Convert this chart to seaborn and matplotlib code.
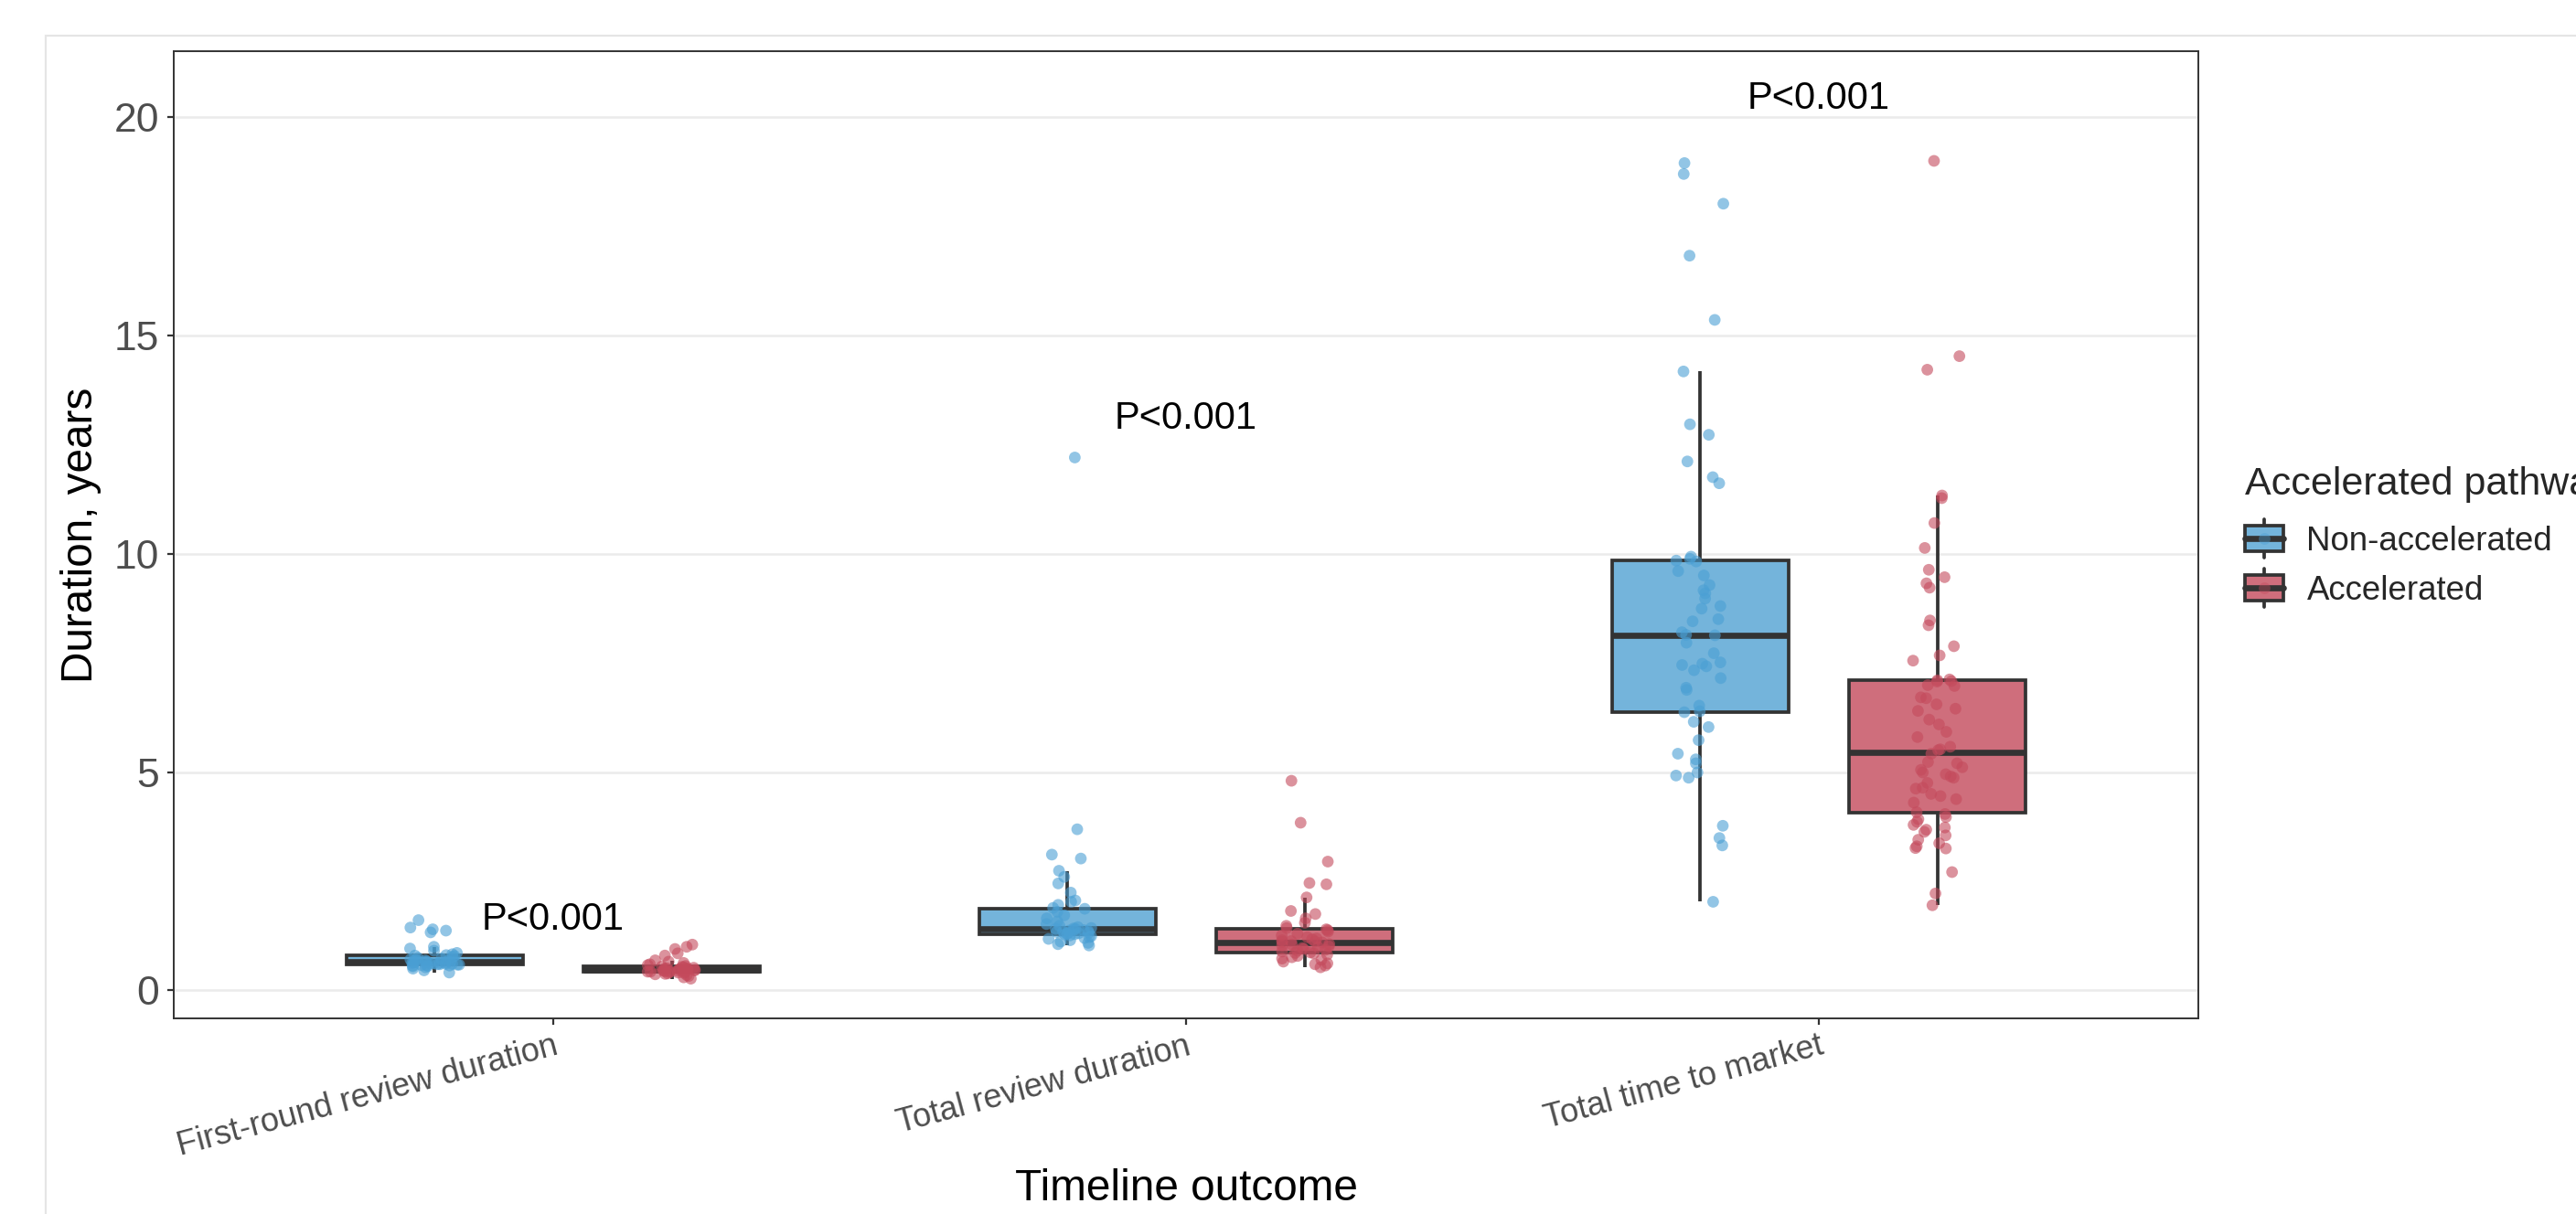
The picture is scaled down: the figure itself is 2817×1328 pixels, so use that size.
import numpy as np
import pandas as pd
import matplotlib
matplotlib.use("Agg")
import matplotlib.pyplot as plt
import seaborn as sns
from matplotlib.patches import Patch, Rectangle
from matplotlib.lines import Line2D
from matplotlib.legend_handler import HandlerBase

# ---- data (years) ----
outcomes = ["First-round review duration", "Total review duration", "Total time to market"]
pathways = ["Non-accelerated", "Accelerated"]

first_round_non = [1.61, 1.44, 1.40, 1.37, 1.33, 1.00, 0.96, 0.91, 0.86, 0.83, 0.81, 0.80,
                   0.79, 0.77, 0.75, 0.73, 0.71, 0.70, 0.69, 0.68, 0.67, 0.66, 0.66, 0.65,
                   0.65, 0.64, 0.64, 0.63, 0.63, 0.62, 0.62, 0.61, 0.61, 0.60, 0.60, 0.59,
                   0.59, 0.58, 0.58, 0.57, 0.57, 0.56, 0.55, 0.53, 0.50, 0.46, 0.41]
first_round_acc = [1.05, 1.00, 0.95, 0.85, 0.80, 0.69, 0.66, 0.63, 0.60, 0.58, 0.56, 0.55,
                   0.54, 0.53, 0.52, 0.51, 0.50, 0.50, 0.49, 0.49, 0.48, 0.48, 0.47, 0.47,
                   0.46, 0.46, 0.45, 0.45, 0.44, 0.44, 0.43, 0.43, 0.42, 0.42, 0.41, 0.40,
                   0.39, 0.38, 0.37, 0.35, 0.33, 0.30, 0.27]
total_review_non = [12.2, 3.69, 3.11, 3.02, 2.74, 2.60, 2.45, 2.24, 2.06, 2.03, 1.96, 1.89,
                    1.87, 1.80, 1.72, 1.65, 1.58, 1.52, 1.48, 1.45, 1.43, 1.42, 1.41, 1.41,
                    1.38, 1.38, 1.37, 1.36, 1.35, 1.34, 1.33, 1.32, 1.31, 1.30, 1.30, 1.29,
                    1.28, 1.26, 1.24, 1.22, 1.20, 1.18, 1.15, 1.12, 1.09, 1.06, 1.03]
total_review_acc = [4.80, 3.84, 2.95, 2.46, 2.43, 2.13, 1.82, 1.75, 1.65, 1.55, 1.48, 1.43,
                    1.40, 1.38, 1.35, 1.30, 1.26, 1.22, 1.19, 1.17, 1.15, 1.13, 1.12, 1.11,
                    1.10, 1.06, 1.05, 1.03, 1.01, 0.99, 0.97, 0.95, 0.93, 0.91, 0.89, 0.87,
                    0.86, 0.85, 0.82, 0.79, 0.76, 0.73, 0.70, 0.66, 0.62, 0.60, 0.57, 0.53]
market_non = [18.94, 18.69, 18.01, 16.82, 15.35, 14.17, 12.96, 12.72, 12.11, 11.75, 11.61,
              9.93, 9.88, 9.84, 9.82, 9.60, 9.50, 9.28, 9.16, 9.09, 8.97, 8.80, 8.74, 8.50,
              8.45, 8.20, 8.14, 8.13, 7.96, 7.72, 7.51, 7.48, 7.45, 7.42, 7.33, 7.15, 6.93,
              6.88, 6.52, 6.39, 6.37, 6.15, 6.03, 5.73, 5.42, 5.29, 5.20, 4.99, 4.92, 4.87,
              3.77, 3.49, 3.32, 2.03]
market_acc = [18.99, 14.52, 14.21, 11.33, 11.27, 10.70, 10.13, 9.63, 9.46, 9.32, 9.22, 8.47,
              8.36, 7.88, 7.67, 7.55, 7.12, 7.10, 7.08, 7.07, 6.99, 6.97, 6.71, 6.69, 6.55,
              6.45, 6.40, 6.20, 6.09, 5.92, 5.80, 5.58, 5.52, 5.50, 5.42, 5.23, 5.20, 5.11,
              5.05, 4.99, 4.95, 4.90, 4.87, 4.75, 4.64, 4.62, 4.50, 4.45, 4.38, 4.30, 4.08,
              4.04, 3.97, 3.92, 3.86, 3.79, 3.73, 3.68, 3.63, 3.55, 3.45, 3.37, 3.30, 3.26,
              3.25, 2.71, 2.22, 1.95]

p_labels = ["P<0.001", "P<0.001", "P<0.001"]
p_label_height = [1.63, 13.08, 20.42]   # where the labels sit

box_colors = ["#74B4DB", "#CF6E7C"]
point_colors = ["#4A9FD4", "#C44A5C"]
dark = "#333333"

groups = [(first_round_non, first_round_acc), (total_review_non, total_review_acc),
          (market_non, market_acc)]
rows = []
for outcome, pair in zip(outcomes, groups):
    for pathway, vals in zip(pathways, pair):
        for v in vals:
            rows.append((outcome, pathway, v))
df = pd.DataFrame(rows, columns=["outcome", "pathway", "years"])

sns.set_theme(style="white")
plt.rcParams["font.family"] = ["Liberation Sans", "DejaVu Sans"]

fig = plt.figure(figsize=(14.085, 6.64), dpi=200)
ax = fig.add_axes([0.0674, 0.1611, 0.7860, 0.7967])

sns.boxplot(data=df, x="outcome", y="years", hue="pathway", order=outcomes,
            hue_order=pathways, palette=box_colors, saturation=1, width=0.75, gap=0.256,
            showfliers=False, showcaps=False, linecolor=dark, linewidth=1.35,
            medianprops={"linewidth": 2.4}, legend=False, ax=ax)

np.random.seed(11)
sns.stripplot(data=df, x="outcome", y="years", hue="pathway", order=outcomes,
              hue_order=pathways, palette=point_colors, dodge=True, jitter=0.085, size=4.6,
              alpha=0.6, linewidth=0, legend=False, ax=ax, zorder=3)

# stripplot dodges by 0.2, boxes by 0.1875 -> pull points onto the box centres
for coll in ax.collections:
    offs = coll.get_offsets()
    if len(offs):
        base = np.round(offs[:, 0])
        offs[:, 0] = base + (offs[:, 0] - base) * 0.9375
        coll.set_offsets(offs)

for i, (lab, yy) in enumerate(zip(p_labels, p_label_height)):
    ax.text(i, yy, lab, ha="center", va="center", fontsize=15, color="black")

ax.set_xlim(-0.6, 2.6)
ax.set_ylim(-0.64, 21.5)
ax.set_yticks([0, 5, 10, 15, 20])
ax.yaxis.grid(True, color="#EBEBEB", lw=0.9)
ax.xaxis.grid(False)
ax.set_axisbelow(True)
for s in ax.spines.values():
    s.set_visible(True)
    s.set_color(dark)
    s.set_linewidth(0.7)

ax.tick_params(axis="both", direction="out", length=2.6, width=0.8, color=dark,
               labelcolor="#4D4D4D", bottom=True, left=True)
ax.tick_params(axis="y", labelsize=16, pad=3)
ax.tick_params(axis="x", labelsize=13, pad=2)
ax.set_xticks(range(len(outcomes)))
ax.set_xticklabels(outcomes, rotation=15, ha="right", rotation_mode="anchor")

ax.set_xlabel("Timeline outcome", fontsize=17.2, color="black")
ax.set_ylabel("Duration, years", fontsize=17.2, color="black")
ax.xaxis.set_label_coords(0.5, -0.155)
ax.yaxis.set_label_coords(-0.0355, 0.5)


class BoxKey(HandlerBase):
    def create_artists(self, legend, orig_handle, xdescent, ydescent, width, height,
                       fontsize, trans):
        x0, y0 = -xdescent, -ydescent
        cx = x0 + width / 2
        whisker = Line2D([cx, cx], [y0 - 0.25 * height, y0 + 1.25 * height], color=dark,
                         lw=1.35, transform=trans)
        box = Rectangle((x0, y0), width, height, facecolor=orig_handle.get_facecolor(),
                        edgecolor=dark, lw=1.35, transform=trans)
        med = Line2D([x0, x0 + width], [y0 + height / 2] * 2, color=dark, lw=2.4,
                     transform=trans)
        dot = Line2D([cx], [y0 + height / 2], marker="o", ms=4.6, ls="none", alpha=0.4,
                     color=orig_handle.get_edgecolor(), mew=0, transform=trans)
        return [whisker, box, med, dot]


handles = [Patch(facecolor=bc, edgecolor=pc, label=lab)
           for bc, pc, lab in zip(box_colors, point_colors, pathways)]
leg = fig.legend(handles=handles, labels=pathways, handler_map={Patch: BoxKey()},
                 title="Accelerated pathway", loc="upper left", bbox_to_anchor=(0.8715, 0.616),
                 frameon=False, borderpad=0, borderaxespad=0, prop={"size": 13.2},
                 title_fontsize=15.5, alignment="left", handlelength=1.14, handleheight=0.78,
                 handletextpad=0.7, labelspacing=0.52)
leg._legend_box.sep = 8.9   # a little more room under the title

# light outer frame of the exported panel
fig.patches.append(Rectangle((50 / 2817, -0.05), 1.0, 0.9706 + 0.05,
                             transform=fig.transFigure, fill=False,
                             edgecolor="#E5E5E5", lw=0.8))

fig.savefig("out.png", dpi=200)
